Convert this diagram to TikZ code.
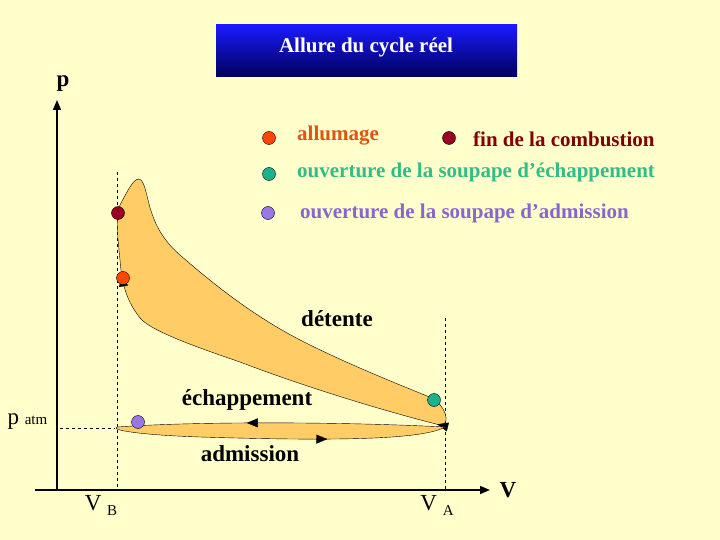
\documentclass[tikz,border=0pt]{standalone}
\usepackage{fontspec}
\setmainfont{Liberation Serif}
\usetikzlibrary{arrows.meta,decorations.markings}
\definecolor{bg}{RGB}{255,255,204}
\definecolor{fillc}{RGB}{255,204,102}
\definecolor{c1}{RGB}{255,69,0}
\definecolor{c2}{RGB}{153,0,34}
\definecolor{c3}{RGB}{26,179,140}
\definecolor{c4}{RGB}{153,119,230}
\definecolor{t1}{RGB}{221,85,17}
\definecolor{t2}{RGB}{128,0,0}
\definecolor{t3}{RGB}{51,187,136}
\definecolor{t4}{RGB}{136,102,204}
\tikzset{dot/.style={circle,draw=black,inner sep=0pt,minimum size=13pt,fill=#1},
 lab/.style={font=\bfseries\fontsize{23}{26}\selectfont,inner sep=1pt},
 leg/.style={font=\bfseries\fontsize{21}{24}\selectfont,anchor=west,inner sep=0pt},
 guide/.style={dashed,thin}}
\begin{document}
\begin{tikzpicture}[x=1pt,y=-1pt]
\fill[bg] (0,0) rectangle (720,540);
\useasboundingbox (0,0) rectangle (720,540);
% title
\shade[top color=blue!90!white,bottom color={rgb,255:red,0;green,0;blue,90}] (216,25) rectangle (517,77);
\node[font=\bfseries\fontsize{21}{24}\selectfont,text=white] (title) at (366,47) {Allure du cycle réel};
% dashed guides
\draw[guide] (117,172) -- (117,490);
\draw[guide] (445,318) -- (445,490);
\draw[guide] (60,428) -- (115,428);
% cycle
\draw[fill=fillc,thin,
 decoration={markings,mark=at position 0.47 with {\arrow{Triangle[length=11pt,width=9pt]}},
 mark=at position 0.88 with {\arrow{Triangle[length=11pt,width=9pt]}}},postaction={decorate}]
 (141,180) .. controls (150,190) and (145,225) .. (180,255)
 .. controls (220,290) and (260,320) .. (306,343)
 .. controls (350,365) and (400,385) .. (432,398)
 .. controls (445,405) and (452,425) .. (440,425)
 .. controls (380,410) and (300,385) .. (240,362)
 .. controls (190,345) and (150,330) .. (140,318)
 .. controls (130,305) and (122,290) .. (120,260)
 .. controls (118,240) and (115,215) .. (120,205)
 .. controls (128,190) and (135,175) .. (141,180) -- cycle;
\draw[fill=fillc,thin,
 decoration={markings,mark=at position 0.3 with {\arrow{Triangle[length=11pt,width=9pt]}},
 mark=at position 0.82 with {\arrow{Triangle[length=11pt,width=9pt]}}},postaction={decorate}]
 (445,427) .. controls (350,422) and (200,421) .. (117,427)
 .. controls (110,430) and (140,435) .. (200,437)
 .. controls (300,440) and (420,442) .. (445,427) -- cycle;
% dots
\node[dot=c2] (d2) at (118,213) {};
\node[dot=c1] (d1) at (123,278) {};
\node[dot=c3] (d3) at (434,400) {};
\node[dot=c4] (d4) at (138,422) {};
% axes
\draw[-{Triangle[length=10pt,width=8pt]},line width=1.6pt] (57,490) -- (57,100);
\draw[-{Triangle[length=10pt,width=8pt]},line width=1.6pt] (35,490) -- (490,490);
\node[font=\bfseries\fontsize{23}{26}\selectfont] (p) at (63,84) {p};
\node[font=\bfseries\fontsize{23}{26}\selectfont] (V) at (508,490) {V};
\node[font=\fontsize{23}{26}\selectfont,anchor=west] (pa) at (4,422) {p \fontsize{15}{18}\selectfont atm};
\node[font=\fontsize{23}{26}\selectfont] (vb) at (101,505) {V \raisebox{-5pt}{\fontsize{15}{18}\selectfont B}};
\node[font=\fontsize{23}{26}\selectfont] (va) at (437,505) {V \raisebox{-5pt}{\fontsize{15}{18}\selectfont A}};
% labels
\node[lab] (det) at (337,319) {détente};
\node[lab] (ech) at (247,400) {échappement};
\node[lab] (adm) at (250,454) {admission};
% legend
\node[dot=c1] (l1) at (269,138) {};
\node[leg,text=t1] (lt1) at (297,136) {allumage};
\node[dot=c2] (l2) at (449,138) {};
\node[leg,text=t2] (lt2) at (473,139) {fin de la combustion};
\node[dot=c3] (l3) at (269,174) {};
\node[leg,text=t3] (lt3) at (297,172) {ouverture de la soupape d’échappement};
\node[dot=c4] (l4) at (268,213) {};
\node[leg,text=t4] (lt4) at (300,213) {ouverture de la soupape d’admission};
\end{tikzpicture}
\end{document}
